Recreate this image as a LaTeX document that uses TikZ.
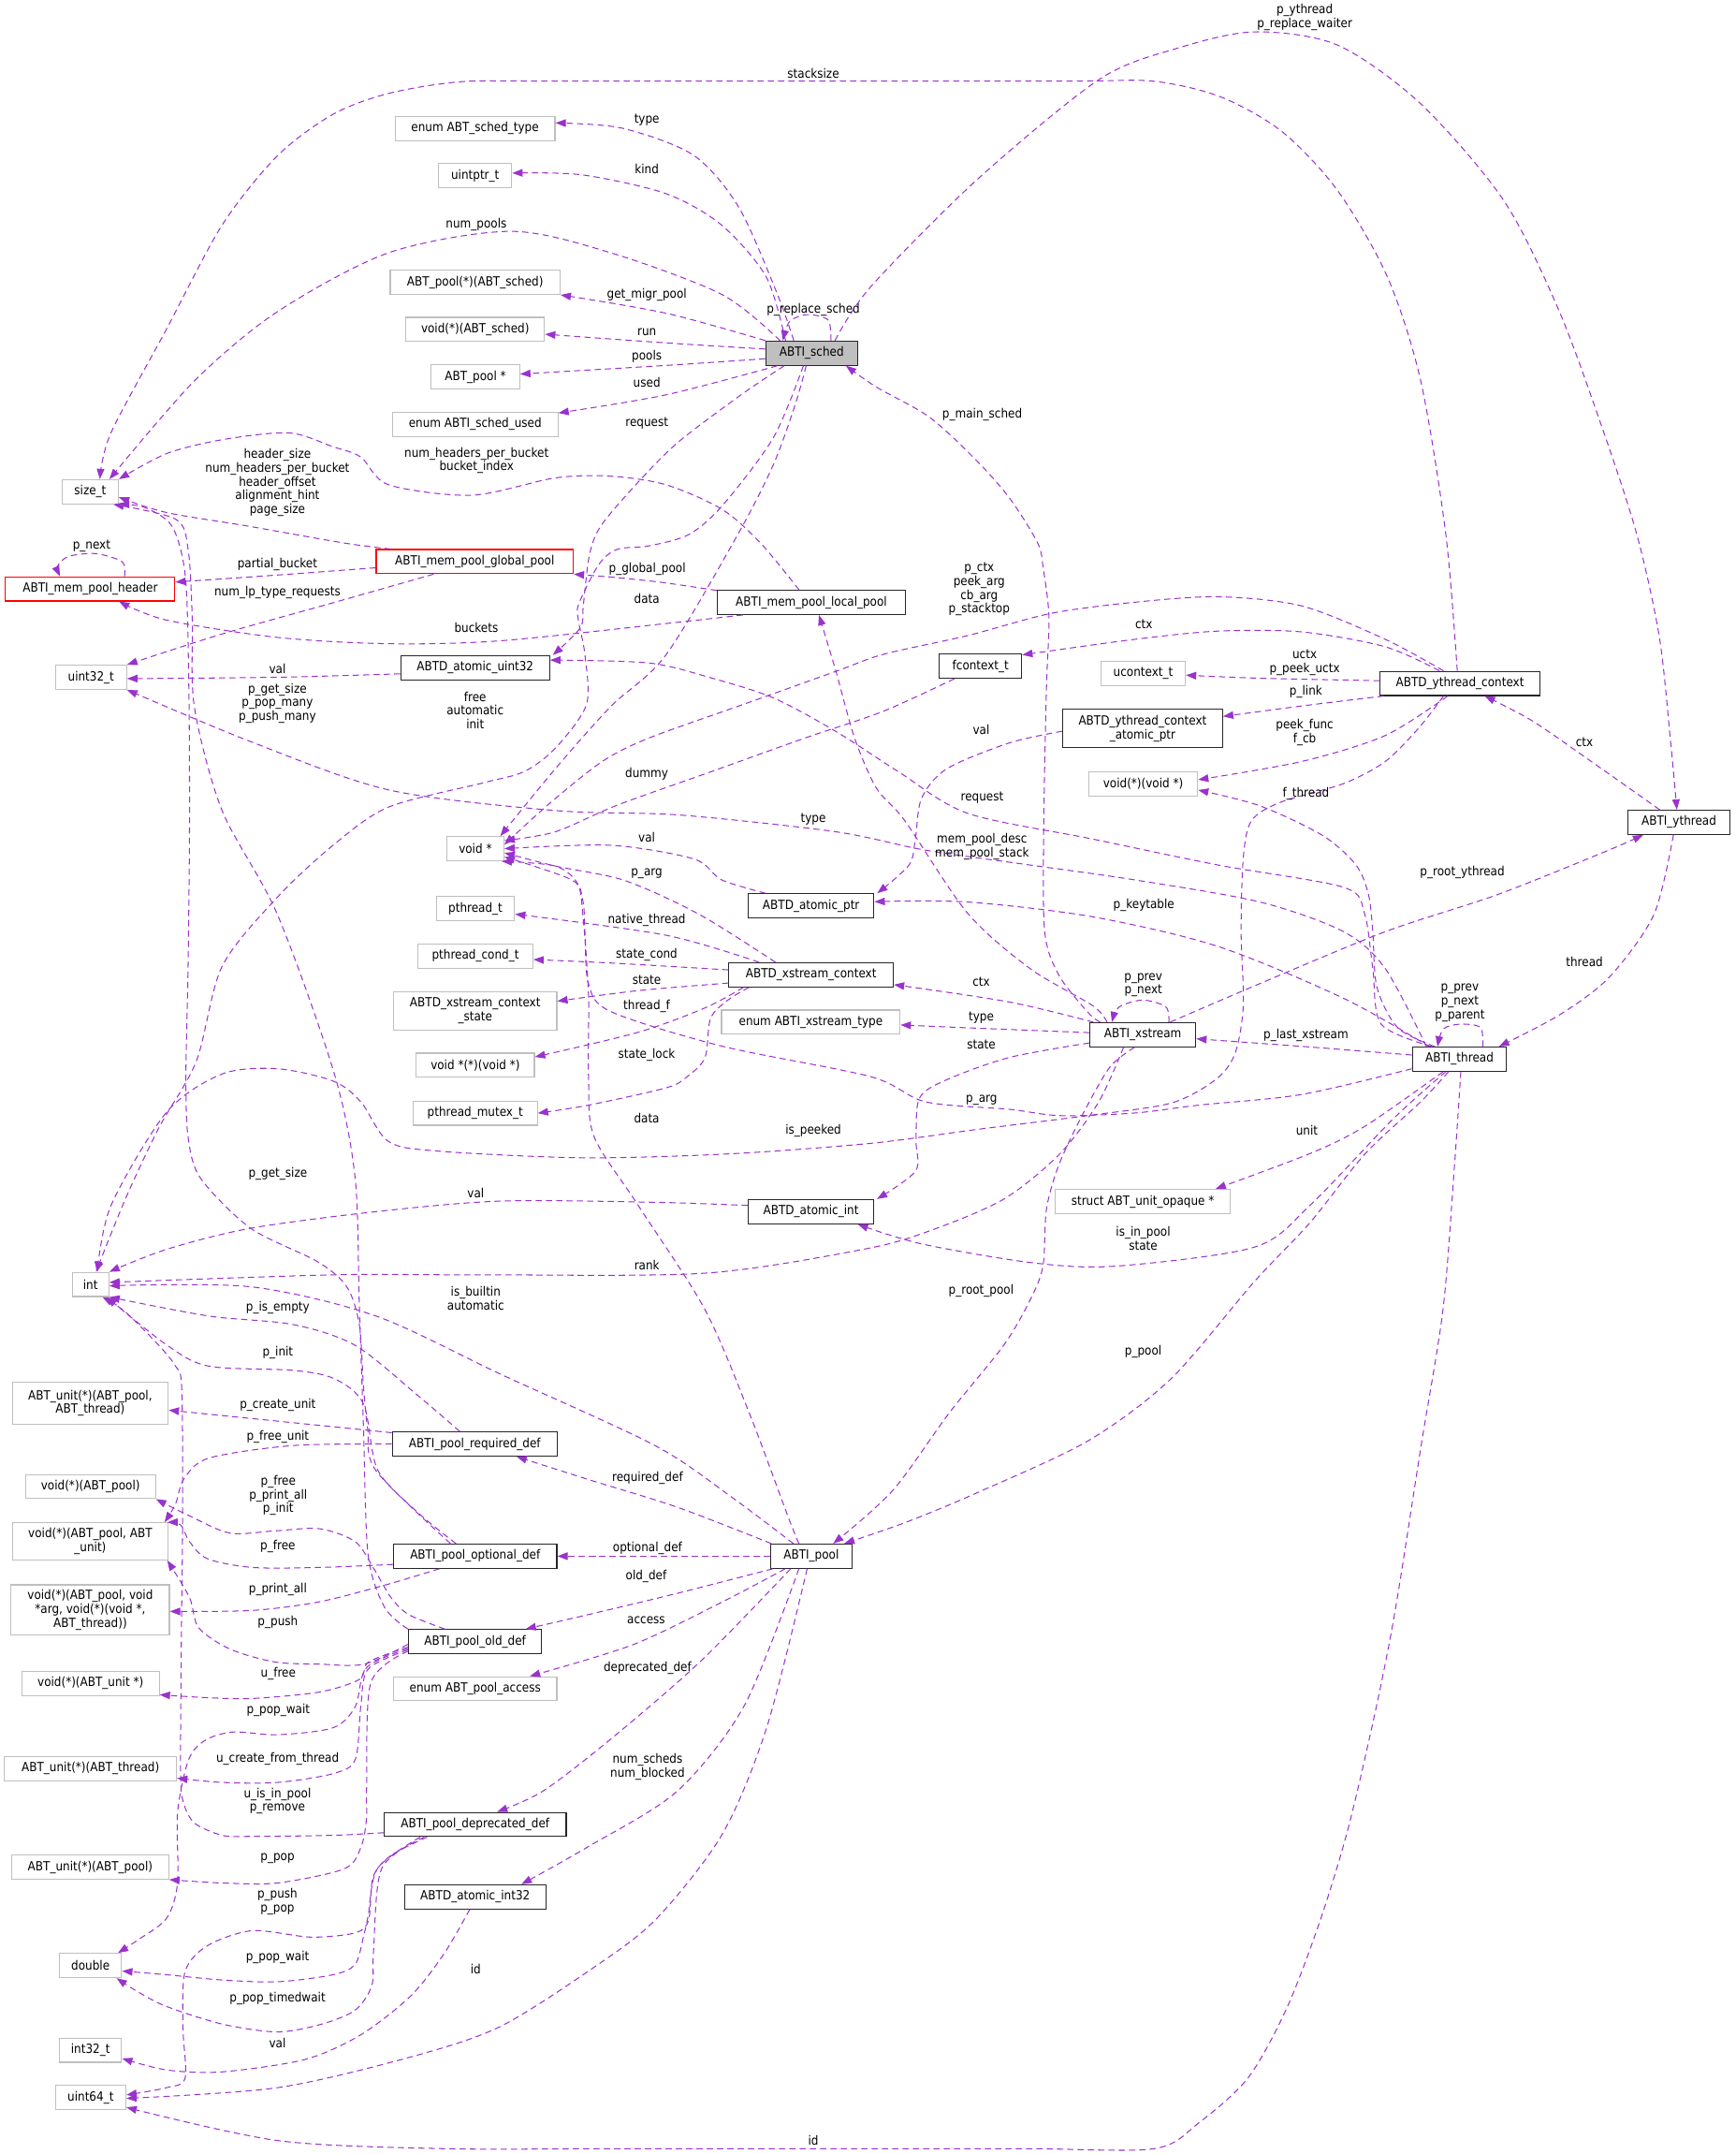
\documentclass[tikz,border=0pt]{standalone}
\usepackage{fontspec}
\setmainfont{DejaVu Sans}[FakeStretch=0.89]
\usetikzlibrary{arrows.meta}
\definecolor{edgec}{HTML}{9A32CD}
\definecolor{extc}{HTML}{BFBFBF}
\definecolor{schedfill}{HTML}{BFBFBF}
\newcommand\dgfont{\fontsize{9.2}{10}\selectfont}
\tikzset{
  box/.style={rectangle, inner xsep=2pt, inner ysep=1pt, minimum height=17.6pt, font=\dgfont, align=center, line width=0.75pt},
  ext/.style={box, draw=extc, fill=white},
  cls/.style={box, draw=black!85, fill=white},
  redc/.style={box, draw=red, fill=white},
  mainc/.style={box, draw=black!85, fill=schedfill},
  edge/.style={draw=edgec, line width=0.7pt, dash pattern=on 4.5pt off 3pt, -{Triangle[length=7.5pt,width=5.5pt]}},
  lbl/.style={font=\dgfont, align=center, inner sep=0pt},
}
\begin{document}
\begin{tikzpicture}[x=1pt,y=-1pt]
\useasboundingbox (0,0) rectangle (1264,1568);
% ---------- nodes ----------
\node[ext, minimum width=41pt] (sizet) at (65.7,358) {size\_t};
\node[redc, minimum width=123.3pt] (mphdr) at (65.7,428.7) {ABTI\_mem\_pool\_header};
\node[ext, minimum width=51.7pt] (uint32) at (66.3,493) {uint32\_t};
\node[redc, minimum width=143.5pt] (gpool) at (345.7,408.8) {ABTI\_mem\_pool\_global\_pool};
\node[cls, minimum width=137pt] (lpool) at (590.8,438.5) {ABTI\_mem\_pool\_local\_pool};
\node[cls, minimum width=108.3pt] (au32) at (346,486) {ABTD\_atomic\_uint32};
\node[ext, minimum width=41.6pt] (voidp) at (346.1,617.8) {void *};
\node[ext, minimum width=57pt] (pthr) at (346.2,661.4) {pthread\_t};
\node[ext, minimum width=83.7pt] (pcond) at (346.2,696) {pthread\_cond\_t};
\node[ext, minimum width=118.9pt, minimum height=27.7pt] (xcs) at (346,735.8) {ABTD\_xstream\_context\\\_state};
\node[ext, minimum width=86pt] (vfv) at (346.1,775.4) {void *(*)(void *)};
\node[ext, minimum width=90.5pt] (pmtx) at (346,810.3) {pthread\_mutex\_t};
\node[cls, minimum width=91.6pt] (aptr) at (590.6,659.4) {ABTD\_atomic\_ptr};
\node[cls, minimum width=119.8pt] (xctx) at (590.6,709.6) {ABTD\_xstream\_context};
\node[ext, minimum width=130pt] (xtype) at (590.4,744.1) {enum ABTI\_xstream\_type};
\node[cls, minimum width=91.4pt] (aint) at (590.5,882) {ABTD\_atomic\_int};
\node[ext, minimum width=26.7pt] (tint) at (65.9,935) {int};
\node[ext, minimum width=113.5pt, minimum height=30.6pt] (fupt) at (65.7,1021.5) {ABT\_unit(*)(ABT\_pool,\\ABT\_thread)};
\node[cls, minimum width=120pt] (reqd) at (345.7,1051.1) {ABTI\_pool\_required\_def};
\node[ext, minimum width=94.6pt] (fvp) at (65.9,1082.1) {void(*)(ABT\_pool)};
\node[ext, minimum width=113.5pt, minimum height=27pt] (fvpu) at (65.7,1122) {void(*)(ABT\_pool, ABT\\\_unit)};
\node[cls, minimum width=118.9pt] (optd) at (346,1132.8) {ABTI\_pool\_optional\_def};
\node[cls, minimum width=59.3pt] (pool) at (590.7,1132.8) {ABTI\_pool};
\node[ext, minimum width=115.3pt, minimum height=36.6pt] (fvpa) at (65.7,1172) {void(*)(ABT\_pool, void\\\relax *arg, void(*)(void *,\\ABT\_thread))};
\node[cls, minimum width=97pt] (oldd) at (345.9,1195) {ABTI\_pool\_old\_def};
\node[ext, minimum width=100pt] (fvu) at (65.9,1225.5) {void(*)(ABT\_unit *)};
\node[ext, minimum width=118.9pt] (access) at (346,1229.3) {enum ABT\_pool\_access};
\node[ext, minimum width=125.3pt] (fut) at (65.9,1287.4) {ABT\_unit(*)(ABT\_thread)};
\node[cls, minimum width=132.5pt] (depd) at (346,1328.1) {ABTI\_pool\_deprecated\_def};
\node[ext, minimum width=114.4pt] (fup) at (65.7,1359.1) {ABT\_unit(*)(ABT\_pool)};
\node[cls, minimum width=102.7pt] (ai32) at (346,1380.8) {ABTD\_atomic\_int32};
\node[ext, minimum width=45.3pt] (dbl) at (65.9,1430.8) {double};
\node[ext, minimum width=45.3pt] (int32) at (65.9,1492.4) {int32\_t};
\node[ext, minimum width=51.3pt] (uint64) at (66,1527) {uint64\_t};
\node[ext, minimum width=116.4pt] (schedtype) at (345.9,93.5) {enum ABT\_sched\_type};
\node[ext, minimum width=53.3pt] (uintptr) at (346,128) {uintptr\_t};
\node[ext, minimum width=123.7pt] (fps) at (346,205.5) {ABT\_pool(*)(ABT\_sched)};
\node[ext, minimum width=101pt] (fvs) at (346,239.8) {void(*)(ABT\_sched)};
\node[ext, minimum width=64.3pt] (poolp) at (346.2,274.3) {ABT\_pool *};
\node[ext, minimum width=120.5pt] (used) at (346,308.8) {enum ABTI\_sched\_used};
\node[mainc, minimum width=66.7pt] (sched) at (591,257.1) {ABTI\_sched};
\node[cls, minimum width=59.9pt] (fctx) at (714,484.9) {fcontext\_t};
\node[ext, minimum width=61.5pt] (uctx) at (832.4,490.5) {ucontext\_t};
\node[cls, minimum width=116.4pt] (ytc) at (1063.1,497.5) {ABTD\_ythread\_context};
\node[cls, minimum width=116.4pt, minimum height=27.8pt] (ytcap) at (832,530.3) {ABTD\_ythread\_context\\\_atomic\_ptr};
\node[ext, minimum width=79.3pt] (fvv) at (832.4,570.6) {void(*)(void *)};
\node[cls, minimum width=74.8pt] (yth) at (1222.5,598.6) {ABTI\_ythread};
\node[cls, minimum width=77.2pt] (xs) at (832.1,753.2) {ABTI\_xstream};
\node[cls, minimum width=68.7pt] (th) at (1062.7,771) {ABTI\_thread};
\node[ext, minimum width=127.3pt] (uop) at (832.1,874.6) {struct ABT\_unit\_opaque *};

% ---------- edges from ABTI_sched ----------
\draw[edge] plot[smooth] coordinates {([xshift=-13pt]sched.north) (566,214) (538,151) (505,113) (453,93.3) ([yshift=4pt]schedtype.east)};
\node[lbl] (la1) at (471,87) {type};
\draw[edge] plot[smooth] coordinates {([xshift=-19pt]sched.north) (558,201.7) (525.5,163.9) (485,141) (424,127.3) ([yshift=2pt]uintptr.east)};
\node[lbl] (la2) at (471,122.8) {kind};
\draw[edge] plot[smooth] coordinates {([xshift=-23pt]sched.north) (525.5,214.3) (444.6,184) (371.9,168.4) (283,184) (202,226.9) (141.5,277.3) ([xshift=14pt]sizet.north)};
\node[lbl] (la3) at (346.8,163.3) {num\_pools};
\draw[edge] plot[smooth] coordinates {(sched.north west) (485,228) (fps.south east)};
\node[lbl] (la4) at (471,214.3) {get\_migr\_pool};
\draw[edge] plot[smooth] coordinates {([yshift=3pt]sched.west) (485,249.6) ([yshift=-3.5pt]fvs.east)};
\node[lbl] (la5) at (471,241.8) {run};
\draw[edge] plot[smooth] coordinates {([yshift=-4pt]sched.west) (485,266) ([yshift=2pt]poolp.east)};
\node[lbl] (la6) at (471,259.4) {pools};
\draw[edge] plot[smooth] coordinates {([xshift=-25pt]sched.south) (485,287.4) ([yshift=-1pt]used.north east)};
\node[lbl] (la7) at (471,278.5) {used};
\draw[edge] plot[smooth] coordinates {([xshift=14pt]sched.north) (603,233) (588,229) (575,234) ([xshift=-21pt]sched.north)};
\node[lbl] (la8) at (592.2,225.6) {p\_replace\_sched};
\draw[edge] plot[smooth] coordinates {([xshift=-20pt]sched.south) (540.6,286.7) (495.2,320.7) (467.9,347.5) (438.4,381.6) (429.3,403.5) (424.8,440) (422.5,457) ([xshift=2pt]au32.north east)};
\node[lbl] (la9) at (471,308) {request};
\draw[edge] plot[smooth] coordinates {([xshift=-4pt]sched.south) (579.2,294) (563.3,337.8) (537.6,388.4) (485,476.6) (444.6,514.4) (404.2,559.8) ([xshift=-3pt]voidp.north east)};
\node[lbl] (la10) at (471,436) {data};
\draw[edge] plot[smooth] coordinates {([xshift=-6pt]sched.south) (563.3,318.3) (526.9,367) (502,388.9) (472.4,397.4) (449.7,399.8) (436.1,410.8) (421.3,440) (421.3,452.2) (425.9,476.5) (427,513) (404.3,544.7) (381.6,561.7) (351.7,569.9) (283,587.5) (242.5,615.3) (202,653.1) (161.7,703.5) (143,772.4) (115.6,821.1) (91.3,872.8) ([xshift=4pt]tint.north)};
\node[lbl] (la11) at (346,517) {free\\automatic\\init};
\draw[edge] plot[smooth] coordinates {([xshift=17pt]sched.north) (633.8,209) (711.1,131.1) (800.1,58) (856.7,35.3) (913.2,23.2) (973.9,32.8) (1034.5,75.6) (1095.1,146.2) (1135.5,226.9) (1167.9,315.1) (1192.1,390) (1208.3,464) (1216.4,539.6) ([xshift=-1.5pt]yth.north)};
\node[lbl] (la12) at (950,12.8) {p\_ythread\\p\_replace\_waiter};

% ---------- ABTD_ythread_context ----------
\draw[edge] plot[smooth] coordinates {([xshift=-2pt]ytc.north) (1052.7,388.4) (1034.5,277.3) (1010.3,201.7) (973.9,138.6) (933.5,95.8) (889,70.6) (840.5,59.2) (780,59) (600,59) (400,59) (335.5,59.5) (283,68) (242.5,83.2) (202,113.4) (161.7,163.9) (121.3,239.5) (80.8,315.1) ([xshift=7pt]sizet.north)};
\node[lbl] (lb1) at (592.2,53.4) {stacksize};
\draw[edge] plot[smooth] coordinates {([xshift=-15pt]ytc.north) (1008.7,470.8) (947.9,460) (887,459.4) (826.2,465.4) ([yshift=-1pt]fctx.north east)};
\node[lbl] (lb2) at (832.9,454.6) {ctx};
\draw[edge] plot[smooth] coordinates {([xshift=-12pt]ytc.north) (1008.7,465.4) (947.9,441.1) (887,434.4) (826.2,438.4) (765.3,446.5) (704.5,462.7) (643.6,476.2) (608.7,488.7) (540.6,513) (472.4,537.3) (438.4,554.4) (400,585) ([yshift=3pt]voidp.east)};
\node[lbl] (lb3) at (713,429) {p\_ctx\\peek\_arg\\cb\_arg\\p\_stacktop};
\draw[edge] plot[smooth] coordinates {([yshift=2pt]ytc.west) (917.4,493.7) ([yshift=-1pt]uctx.east)};
\node[lbl] (lb4) at (950,482.5) {uctx\\p\_peek\_uctx};
\draw[edge] plot[smooth] coordinates {([xshift=3pt]ytc.south west) (947.9,513.9) ([yshift=-5.5pt]ytcap.north east)};
\node[lbl] (lb5) at (950.9,503.6) {p\_link};
\draw[edge] plot[smooth] coordinates {([xshift=-9pt]ytc.south) (1008.7,535.4) (947.9,554.3) ([yshift=3pt]fvv.east)};
\node[lbl] (lb6) at (950,533.4) {peek\_func\\f\_cb};
\draw[edge] plot[smooth] coordinates {([xshift=-12pt]ytc.south) (1033,530) (1008.7,554.3) (978.3,570.4) (932.6,583.9) (911.3,597.4) (905.3,624.3) (903.7,678.2) (905.3,732.1) (899.2,767.1) (885,786) (852.6,803) (791.9,812.1) (711.1,822.2) (633.8,832.3) (530,840) (424.4,842.8) (320,838) (283,831) (262.7,802) (242.5,786.9) (202,778) (161.7,781.8) (121.3,809.6) (80.8,877.6) ([xshift=5pt]tint.north)};
\node[lbl] (lb7) at (592.2,822.9) {is\_peeked};

% ---------- ABTI_thread / ABTI_ythread ----------
\draw[edge] plot[smooth] coordinates {([xshift=17pt]th.north) (1078,748) (1063.5,745.5) (1051,749) ([xshift=-16pt]th.north)};
\node[lbl] (lc1) at (1063,730) {p\_prev\\p\_next\\p\_parent};
\draw[edge] plot[smooth] coordinates {([yshift=3pt]th.west) (947.8,761.7) ([yshift=-3pt]xs.east)};
\node[lbl] (lc2) at (950.9,753.6) {p\_last\_xstream};
\draw[edge] plot[smooth] coordinates {([xshift=-14pt]yth.north) (1155.8,552.3) (1115.3,524.5) ([xshift=18pt]ytc.south)};
\node[lbl] (lc3) at (1153.7,540.2) {ctx};
\draw[edge] plot[smooth] coordinates {([xshift=-4pt]yth.south) (1204.3,665.7) (1172,711.1) (1135.5,738.8) ([xshift=-6pt]th.north east)};
\node[lbl] (lc4) at (1153.7,700.2) {thread};
\draw[edge] plot[smooth] coordinates {([xshift=-18pt]th.north) (1017.8,748.2) (1002.6,718.6) (999.6,678.2) (996.5,651.3) (987.4,629.7) (963.1,608.2) (917.4,586.6) ([yshift=-4.5pt]fvv.east)};
\node[lbl] (lc5) at (950.9,578) {f\_thread};
\draw[edge] plot[smooth] coordinates {([xshift=-22pt]th.north) (978.3,726.7) (887,689) (795.7,667.4) (704.5,656.6) ([yshift=3pt]aptr.east)};
\node[lbl] (lc6) at (832.9,658.8) {p\_keytable};
\draw[edge] plot[smooth] coordinates {([xshift=-20pt]th.north) (1005.7,745.5) (999.6,705.1) (993.5,664.7) (978.3,645.9) (887,629.7) (795.7,610.8) (704.5,592) (654.1,561.7) (608.7,532.5) (563.3,508.1) (517.9,493.5) (472.4,482.6) ([yshift=5.5pt]au32.east)};
\node[lbl] (lc7) at (715.1,580.7) {request};
\draw[edge] plot[smooth] coordinates {([xshift=-24pt]th.north) (1008.7,705.1) (978.3,678.2) (917.4,656.6) (826.2,640.5) (750.1,629.7) (674,618.9) (608.7,605.5) (495.2,593.3) (404.2,590) (283,575) (181.9,539.6) (uint32.south east)};
\node[lbl] (lc8) at (592.2,596.6) {type};
\draw[edge] plot[smooth] coordinates {([xshift=-8pt]th.south) (1034.5,802) (994.1,839.8) (953.7,890.2) (913.2,933.1) (852.6,1003.7) (792,1049) (711.1,1086.8) (660,1108) ([xshift=-6pt]pool.north east)};
\node[lbl] (lc9) at (832.4,984) {p\_pool};
\draw[edge] plot[smooth] coordinates {([xshift=-12pt]th.south) (994.1,819.7) (953.7,839.8) ([xshift=-11pt]uop.north east)};
\node[lbl] (lc10) at (951.6,822.9) {unit};
\draw[edge] plot[smooth] coordinates {([xshift=-10pt]th.south) (1014.3,814.6) (953.7,877.6) (913.2,907.9) (812.2,921.7) (751.6,919.2) (670.7,905.4) ([xshift=-12pt]aint.south east)};
\node[lbl] (lc11) at (832.4,901.5) {is\_in\_pool\\state};
\draw[edge] plot[smooth] coordinates {([yshift=-7pt]th.west) (947.9,796.7) (872.8,804.5) (826.2,810.2) (771.8,812.1) (734.9,807.5) (674,802.1) (633.8,783.7) (525.5,761.5) (444.6,736.3) (428.5,716.1) (426,680) (424.4,655.6) (416.3,640.5) ([yshift=-6pt]voidp.east)};
\node[lbl] (lc12) at (714.7,801) {p\_arg};
\draw[edge] plot[smooth] coordinates {([xshift=1pt]th.south) (1058.8,852.4) (1050.7,953.3) (1034.5,1054.1) (1016.3,1170) (1002.2,1242.3) (982,1329.6) (961.8,1396.4) (937.5,1460.6) (909.2,1512) (872.8,1545.4) (840.5,1564.1) (750,1564.1) (630,1564.1) (450,1564.1) (323.4,1564.1) (202.1,1558.2) ([yshift=-7pt]uint64.east)};
\node[lbl] (lc13) at (592.2,1558.2) {id};

% ---------- ABTI_xstream ----------
\draw[edge] plot[smooth] coordinates {([xshift=19pt]xs.north) (849,733) (832.2,728) (815,733) ([xshift=-22.5pt]xs.north)};
\node[lbl] (ld1) at (832.5,717) {p\_prev\\p\_next};
\draw[edge] plot[smooth] coordinates {([xshift=3pt]xs.north west) (734.9,729.4) ([yshift=2pt]xctx.south east)};
\node[lbl] (ld2) at (714.5,714.6) {ctx};
\draw[edge] plot[smooth] coordinates {([yshift=1.5pt]xs.west) (704.5,748.2) ([yshift=-2pt]xtype.east)};
\node[lbl] (ld3) at (714.5,741) {type};
\draw[edge] plot[smooth] coordinates {([yshift=-6pt]xs.west) (734.9,769.8) (689.3,786) (669.5,799.4) (667,830) (666.7,852.4) ([xshift=2pt]aint.north east)};
\node[lbl] (ld4) at (714.5,760.4) {state};
\draw[edge] plot[smooth] coordinates {([xshift=-6pt]xs.south) (808,777) (787.9,812.1) (771,848) (762,880) (759.6,920.5) (751.6,943.2) (731.4,978.5) (690.9,1028.9) (650,1085) ([xshift=16pt]pool.north)};
\node[lbl] (ld5) at (714.4,939.4) {p\_root\_pool};
\draw[edge] plot[smooth] coordinates {([xshift=-31pt]xs.north) (792.7,737.5) (771.4,710.5) (760.7,678.2) (760,600) (762,500) (763.8,449.2) (759.6,413.6) (755.6,395.3) (735.4,363) (711.1,335.3) (676.8,303.7) (638.2,281.8) ([xshift=25pt]sched.south)};
\node[lbl] (ld6) at (715.2,302) {p\_main\_sched};
\draw[edge] plot[smooth] coordinates {([xshift=-26pt]xs.north) (795.7,732.1) (750.1,705.1) (704.5,664.7) (658.8,597.4) (638.2,573.8) (622.3,537.3) (608.7,488.7) ([xshift=5.5pt]lpool.south)};
\node[lbl] (ld7) at (715.1,616.2) {mem\_pool\_desc\\mem\_pool\_stack};
\draw[edge] plot[smooth] coordinates {([xshift=-14pt]xs.south) (800.1,802) (771.8,839.8) (731.4,872.6) (678.8,895.3) (630.3,909.1) (513.3,926.8) (350,928) (242.5,928) ([yshift=1.5pt]tint.east)};
\node[lbl] (ld8) at (471,921) {rank};
\draw[edge] plot[smooth] coordinates {([xshift=20pt]xs.north) (917.4,716) (1008.7,678.2) (1090.2,651.3) (1167.9,620.3) ([xshift=-26pt]yth.south)};
\node[lbl] (ld9) at (1064.8,635.4) {p\_root\_ythread};

% ---------- context / atomics ----------
\draw[edge] plot[smooth] coordinates {([yshift=-2pt]ytcap.west) (734.9,540.8) (689.3,559.7) (671,581.2) (666.5,610.8) (661.9,629.7) ([xshift=2pt]aptr.north east)};
\node[lbl] (le1) at (714.5,531.4) {val};
\draw[edge] plot[smooth] coordinates {([xshift=-26pt]xctx.north) (509.3,665.7) (455,641) (404.2,630.4) ([yshift=-3pt]voidp.east)};
\node[lbl] (le2) at (470.9,636.2) {p\_arg};
\draw[edge] plot[smooth] coordinates {([xshift=-38pt]xctx.north) (485,680.8) ([yshift=-4pt]pthr.east)};
\node[lbl] (le3) at (470.9,669.5) {native\_thread};
\draw[edge] plot[smooth] coordinates {([yshift=3.6pt]xctx.west) (444.6,701) ([yshift=-2.5pt]pcond.east)};
\node[lbl] (le4) at (470.9,694.7) {state\_cond};
\draw[edge] plot[smooth] coordinates {([yshift=-6pt]xctx.west) (464.8,721.1) ([yshift=7pt]xcs.east)};
\node[lbl] (le5) at (470.9,713.1) {state};
\draw[edge] plot[smooth] coordinates {([xshift=11pt]xctx.south west) (513.3,733.7) (464.8,751.4) ([yshift=6pt]vfv.east)};
\node[lbl] (le6) at (470.9,732.5) {thread\_f};
\draw[edge] plot[smooth] coordinates {([xshift=15pt]xctx.south west) (530,728) (517.4,741.3) (513.3,770) (500,784) (485,791.9) (428.5,804.5) (pmtx.east)};
\node[lbl] (le7) at (470.9,767.8) {state\_lock};
\draw[edge] plot[smooth] coordinates {([xshift=13pt]aptr.north west) (525.5,640.5) (505.3,625.3) (444.6,615.3) (voidp.east)};
\node[lbl] (le8) at (470.9,609.7) {val};
\draw[edge] plot[smooth] coordinates {([xshift=-19pt]fctx.south) (642.8,517.9) (586,537.3) (517.9,561.7) (449.7,586) (404.3,605.5) ([yshift=6pt]voidp.east)};
\node[lbl] (le9) at (470.9,563.1) {dummy};
\draw[edge] plot[smooth] coordinates {([yshift=-4.5pt]au32.west) (202,493) ([yshift=-1pt]uint32.east)};
\node[lbl] (le10) at (202,486.7) {val};
\draw[edge] plot[smooth] coordinates {([yshift=4.5pt]aint.west) (477,875.2) (365.1,874.3) (273.8,882) (182.5,894.1) (121.7,909.3) (tint.north east)};
\node[lbl] (le11) at (346.4,868.3) {val};
\draw[edge] plot[smooth] coordinates {([xshift=-4pt]ai32.south) (323.4,1422.1) (299.1,1452.9) (262.7,1481.2) (222.3,1499.1) (161.7,1508.2) (121.3,1506.8) ([yshift=-6pt]int32.east)};
\node[lbl] (le12) at (202,1487) {val};

% ---------- memory pools ----------
\draw[edge] plot[smooth] coordinates {([xshift=11pt]gpool.north west) (250.6,395.3) (181.9,383.2) (121.3,373.1) ([yshift=-4pt]sizet.east)};
\node[lbl] (lf1) at (202,351.3) {header\_size\\num\_headers\_per\_bucket\\header\_offset\\alignment\_hint\\page\_size};
\draw[edge] plot[smooth] coordinates {([yshift=-4.5pt]gpool.west) (202,418.6) ([yshift=5pt]mphdr.east)};
\node[lbl] (lf2) at (202,410.6) {partial\_bucket};
\draw[edge] plot[smooth] coordinates {([xshift=-30pt]gpool.south) (242.5,438.8) (161.7,461.5) (uint32.north east)};
\node[lbl] (lf3) at (202,431.3) {num\_lp\_type\_requests};
\draw[edge] plot[smooth] coordinates {([yshift=-0.5pt]lpool.north west) (483.8,424.2) (449.7,420.5) (gpool.south east)};
\node[lbl] (lf4) at (471.3,414.4) {p\_global\_pool};
\draw[edge] plot[smooth] coordinates {([xshift=19pt]lpool.south west) (485,453.9) (363.8,466.5) (283,468.6) (202,464) (121.3,451.4) ([xshift=21pt]mphdr.south)};
\node[lbl] (lf5) at (346.8,457.2) {buckets};
\draw[edge] plot[smooth] coordinates {([xshift=-9pt]lpool.north) (553.8,395.3) (525.5,370.6) (485,352.9) (444.6,346.6) (404.2,347.9) (343.6,360.5) (283,352.9) (262.7,332.7) (242.5,325.2) (210.2,315.1) (161.7,320.1) (121.3,330.2) (sizet.north east)};
\node[lbl] (lf6) at (347,335.3) {num\_headers\_per\_bucket\\bucket\_index};
\draw[edge] plot[smooth] coordinates {([xshift=25pt]mphdr.north) (89,409) (70,403) (50,405) (42,412) ([xshift=-22pt]mphdr.north)};
\node[lbl] (lf7) at (66.7,397.7) {p\_next};

% ---------- ABTI_pool ----------
\draw[edge] plot[smooth] coordinates {([xshift=1pt]pool.north west) (493.3,1097.2) (428.1,1076.9) ([xshift=-30pt]reqd.south east)};
\node[lbl] (lg1) at (471.5,1076.2) {required\_def};
\draw[edge] plot[smooth] coordinates {(pool.west) (optd.east)};
\node[lbl] (lg2) at (471.5,1126.9) {optional\_def};
\draw[edge] plot[smooth] coordinates {([xshift=2pt]pool.south west) (493.3,1159.8) (428.1,1175.4) ([xshift=-12pt]oldd.north east)};
\node[lbl] (lg3) at (470.5,1147.3) {old\_def};
\draw[edge] plot[smooth] coordinates {([xshift=-19pt]pool.south) (526,1166.1) (460.7,1197.3) ([xshift=-20pt]access.north east)};
\node[lbl] (lg4) at (470.5,1179.2) {access};
\draw[edge] plot[smooth] coordinates {([xshift=-15pt]pool.south) (509.6,1209.8) (444.4,1266.2) (395.5,1303.7) ([xshift=16pt]depd.north)};
\node[lbl] (lg5) at (471.5,1214.5) {deprecated\_def};
\draw[edge] plot[smooth] coordinates {([xshift=-9pt]pool.south) (542.2,1241.1) (493.3,1303.7) (428.1,1344.4) ([xshift=-18pt]ai32.north east)};
\node[lbl] (lg6) at (471.5,1286.2) {num\_scheds\\num\_blocked};
\draw[edge] plot[smooth] coordinates {([xshift=-3pt]pool.south) (558.5,1256.8) (526,1335) (477.1,1397.6) (428.1,1435.1) (363,1475.8) (297.8,1497.7) (202.1,1519.7) ([yshift=-0.5pt]uint64.east)};
\node[lbl] (lg7) at (346.4,1433.6) {id};
\draw[edge] plot[smooth] coordinates {([xshift=-13pt]pool.north) (533,1090) (477,1052.3) (365.1,1000.6) (273.8,958) (182.5,936.7) ([yshift=-1pt]tint.east)};
\node[lbl] (lg8) at (346.4,945.2) {is\_builtin\\automatic};
\draw[edge] plot[smooth] coordinates {([xshift=-9pt]pool.north) (574,1104.5) (545.7,1028.9) (513.3,953.3) (464.8,877.6) (432.5,827.2) (428.5,783.7) (428.5,723.7) (424.4,665.7) (420.4,643) (404.2,630.4) ([xshift=-2pt]voidp.south east)};
\node[lbl] (lg9) at (470.9,814.1) {data};

% ---------- pool definition structs ----------
\draw[edge] plot[smooth] coordinates {([yshift=-1pt]reqd.north west) (213,1035.6) ([yshift=-5pt]fupt.east)};
\node[lbl] (lh1) at (202.3,1022.5) {p\_create\_unit};
\draw[edge] plot[smooth] coordinates {(reqd.west) (213,1052.3) (152.1,1061.4) (133.9,1076.6) (127.8,1094.9) ([xshift=-3pt]fvpu.north east)};
\node[lbl] (lh2) at (202.3,1046.2) {p\_free\_unit};
\draw[edge] plot[smooth] coordinates {([xshift=-11pt]reqd.north) (304.2,1015.8) (258.6,979.3) (213,964.1) (152.1,958) (tint.south east)};
\node[lbl] (lh3) at (202.3,951.9) {p\_is\_empty};
\draw[edge] plot[smooth] coordinates {([xshift=-14pt]optd.north) (304.2,1101) (275,1070) (264.7,1021.9) (243.4,1003.6) (213,997.5) (152.1,994.5) (121.7,979.3) ([xshift=-2pt]tint.south east)};
\node[lbl] (lh4) at (202.3,984.5) {p\_init};
\draw[edge] plot[smooth] coordinates {([xshift=-18pt]optd.north) (273.8,1070.6) (267.7,1040) (264.7,1009.7) (261.6,964.1) (252.5,936.7) (231.2,918.4) (182.5,894.1) (146,857.6) (136.9,827.2) (135.4,781.5) (137,700) (138,600) (137.5,500) (135,420) (125.3,383.2) (105,369.3) (sizet.south east)};
\node[lbl] (lh5) at (202.3,854.5) {p\_get\_size};
\draw[edge] plot[smooth] coordinates {(oldd.north west) (280,1170) (268,1131.4) (264.7,1040.1) (261.6,948.9) (258.6,857.6) (243.4,781.5) (202,665.7) (161.7,590) (141.5,514.4) (140,450) (137,400) (128,378) ([xshift=-4pt]sizet.south east)};
\node[lbl] (lh6) at (202,512) {p\_get\_size\\p\_pop\_many\\p\_push\_many};
\draw[edge] plot[smooth] coordinates {([yshift=-6pt]optd.west) (232.6,1141) (183.7,1141) (151.1,1134.7) (138,1122.2) (131.5,1110) ([xshift=-1pt]fvpu.north east)};
\node[lbl] (lh7) at (202.3,1125.9) {p\_free};
\draw[edge] plot[smooth] coordinates {([xshift=-26pt]optd.south) (281.5,1153.5) (232.6,1166) (183.7,1172.3) ([yshift=-1pt]fvpa.east)};
\node[lbl] (lh8) at (202.3,1157.3) {p\_print\_all};
\draw[edge] plot[smooth] coordinates {([xshift=-22pt]oldd.north) (297.8,1175.4) (284.7,1162.9) (271.7,1141) (258.6,1122.2) (232.6,1112.8) (200,1114.4) (167.4,1116) (138.1,1103.5) (fvp.south east)};
\node[lbl] (lh9) at (202.6,1088.7) {p\_free\\p\_print\_all\\p\_init};
\draw[edge] plot[smooth] coordinates {([yshift=-2pt]oldd.west) (265.2,1211.4) (232.6,1211.4) (200,1209.8) (167.4,1200.4) (144.6,1184.8) (138,1162.9) ([xshift=-1pt]fvpu.south east)};
\node[lbl] (lh10) at (202.3,1180.7) {p\_push};
\draw[edge] plot[smooth] coordinates {([yshift=-4pt]oldd.west) (268.4,1209.8) (261.9,1222.4) (232.6,1231.7) (183.7,1236.4) (151.1,1235.8) ([yshift=1pt]fvu.south east)};
\node[lbl] (lh11) at (202.6,1218.6) {u\_free};
\draw[edge] plot[smooth] coordinates {([yshift=-5pt]oldd.west) (266.8,1214) (258.7,1242.3) (242.5,1257.7) (202.1,1262.8) (169.8,1260.8) (149.6,1266.7) (137.4,1280.8) (129.3,1319.3) (129.3,1370.7) (121.3,1396.4) (101,1411.8) ([xshift=20pt]dbl.north)};
\node[lbl] (lh12) at (202.6,1244.9) {p\_pop\_wait};
\draw[edge] plot[smooth] coordinates {([yshift=-6pt]oldd.west) (268,1215) (262.7,1242.3) (258.7,1280.8) (242.5,1291.1) (202.1,1297.5) (161.7,1297.5) ([yshift=-7pt]fut.east)};
\node[lbl] (lh13) at (202.1,1280.5) {u\_create\_from\_thread};
\draw[edge] plot[smooth] coordinates {([yshift=-6pt]depd.west) (242.5,1336) (181.9,1336.8) (161.7,1336) (141.5,1327) (133.4,1311.6) (131.5,1290) (132,1200) (133,1100) (132.3,1009.7) (127.8,994.5) (115.6,979.3) (91.3,955) ([xshift=-5pt]tint.south east)};
\node[lbl] (lh14) at (202,1311) {u\_is\_in\_pool\\p\_remove};
\draw[edge] plot[smooth] coordinates {([yshift=-7pt]oldd.west) (270,1225) (267,1300) (266.8,1324.5) (262.7,1345) (250.6,1360.4) (202.1,1370.7) (161.7,1370.7) (fup.south east)};
\node[lbl] (lh15) at (202.1,1352.7) {p\_pop};
\draw[edge] plot[smooth] coordinates {([xshift=-35pt]depd.south) (284.7,1350.6) (271.7,1366.3) (268.4,1397.6) (258.6,1407) (226.1,1410.1) (183.7,1405.4) (151.1,1416.3) (134.8,1435.1) (133.2,1475.8) (134.8,1512.7) (121.3,1519.7) ([yshift=2pt]uint64.east)};
\node[lbl] (lh16) at (202,1384.3) {p\_push\\p\_pop};
\draw[edge] plot[smooth] coordinates {([xshift=-40pt]depd.south) (275,1360) (268,1395) (264.8,1409.2) (258.7,1429.8) (242.5,1437.5) (202.1,1442.6) (161.7,1441.3) (121.3,1437.5) ([yshift=-4pt]dbl.east)};
\node[lbl] (lh17) at (202.1,1424.6) {p\_pop\_wait};
\draw[edge] plot[smooth] coordinates {([xshift=-37pt]depd.south) (278,1360) (272,1420) (270.8,1445.2) (258.7,1463.2) (234.4,1473.4) (202.1,1479.1) (161.7,1473.4) (121.3,1460.6) (101,1450.3) ([xshift=19pt]dbl.south)};
\node[lbl] (lh18) at (202.1,1455) {p\_pop\_timedwait};
\end{tikzpicture}
\end{document}
